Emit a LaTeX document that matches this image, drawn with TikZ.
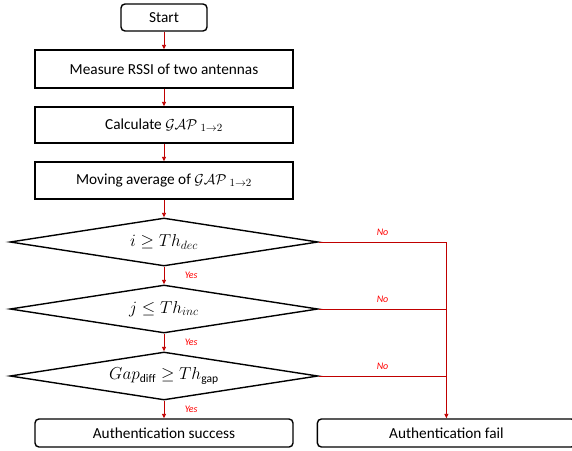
\documentclass[tikz,border=0pt]{standalone}
\usepackage{amsmath}
\usepackage{amssymb}
\usepackage{fontspec}
\setmainfont{Carlito}
\usetikzlibrary{arrows.meta}
\usetikzlibrary{positioning, shapes.geometric}
\definecolor{flowred}{HTML}{C00000}

\begin{document}
\begin{tikzpicture}[x=1pt,y=1pt,>={Triangle[length=4.5pt,width=4pt]},
                node distance=17.6pt and 23pt,
                every node/.style={font=\fontsize{15.3}{18}\selectfont},
                proc box/.style={rectangle,draw,line width=1.4pt,minimum width=258pt,inner sep=2pt},
                end box/.style={rectangle,draw,rounded corners=4pt,line width=1.4pt,minimum width=258pt,minimum height=28pt,inner sep=2pt},
                decision/.style={diamond,draw,line width=1.4pt,minimum width=308pt,minimum height=48pt,aspect=6.4,inner sep=0pt,
                                 font=\fontsize{16.5}{19}\selectfont},
                flow/.style={->,color=flowred,line width=0.9pt},
                yes label/.style={right=17pt,text=red,font=\fontsize{10}{12}\selectfont\itshape},
                no label/.style={above=3pt,text=red,font=\fontsize{10}{12}\selectfont\itshape}]

        \useasboundingbox (0,0) rectangle (572,-450);

        \node[end box, minimum width=86pt, minimum height=27pt] (start) at (164,-17.5) {Start};
        \node[proc box, minimum height=38pt, below=of start] (rssi) {Measure RSSI of two antennas};
        \node[proc box, minimum height=36pt, below=of rssi] (calc) {Calculate $\mathcal{GAP}_{\;1\rightarrow 2}$};
        \node[proc box, minimum height=37pt, below=of calc] (avg) {Moving average of $\mathcal{GAP}_{\;1\rightarrow 2}$};
        \node[decision, below=of avg] (dec) {$i \geq Th_{dec}$};
        \node[decision, below=of dec] (inc) {$j \leq Th_{inc}$};
        \node[decision, below=of inc] (gap) {$Gap_{\mathrm{diff}} \geq Th_{\mathrm{gap}}$};
        \node[end box, below=of gap] (success) {Authentication success};
        \node[end box, right=of success] (fail) {Authentication fail};

          \path
            (start) edge [flow]                             (rssi)
            (rssi)  edge [flow]                             (calc)
            (calc)  edge [flow]                             (avg)
            (avg)   edge [flow]                             (dec)
            (dec)   edge [flow]  node [yes label] {Yes}     (inc)
            (inc)   edge [flow]  node [yes label] {Yes}     (gap)
            (gap)   edge [flow]  node [yes label] {Yes}     (success);

          \draw[flow] (dec.east) -| node [pos=0.25, no label] {No} (fail.north);
          \draw[flow,-] (inc.east) -- node [no label] {No} (inc.east -| fail.north);
          \draw[flow,-] (gap.east) -- node [no label] {No} (gap.east -| fail.north);
\end{tikzpicture}
\end{document}
